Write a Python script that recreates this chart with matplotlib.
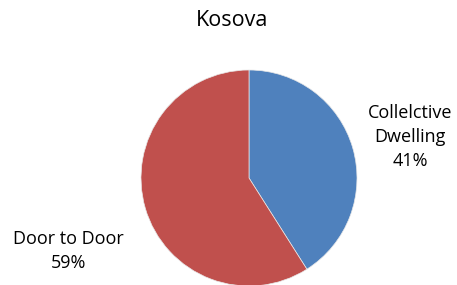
import matplotlib
matplotlib.use("Agg")
import matplotlib.pyplot as plt

title = "Kosova"
categories = ["Collelctive\nDwelling", "Door to Door"]
values = [41, 59]
colors = ["#4F81BD", "#C0504D"]

plt.rcParams['font.family'] = ['Open Sans', 'DejaVu Sans']

W, H = 457, 285
fig = plt.figure(figsize=(W / 100, H / 100), dpi=100)
ax = fig.add_axes([0, 0, 1, 1])

cx, cy, r = 249, H - 178, 108
ax.pie(values, colors=colors, startangle=90, counterclock=False,
       center=(cx, cy), radius=r, frame=True,
       wedgeprops=dict(linewidth=0.5, edgecolor='#e8e8e8'))
ax.set_xlim(0, W)
ax.set_ylim(0, H)
ax.set_aspect('equal')
ax.axis('off')

ax.text(232, H - 21, title, ha='center', va='center', fontsize=15.5)
ax.text(410, H - 137, f"{categories[0]}\n{values[0]}%", ha='center', va='center',
        fontsize=13, linespacing=1.45)
ax.text(68, H - 251, f"{categories[1]}\n{values[1]}%", ha='center', va='center',
        fontsize=13, linespacing=1.45)

fig.savefig("out.png", dpi=100)
